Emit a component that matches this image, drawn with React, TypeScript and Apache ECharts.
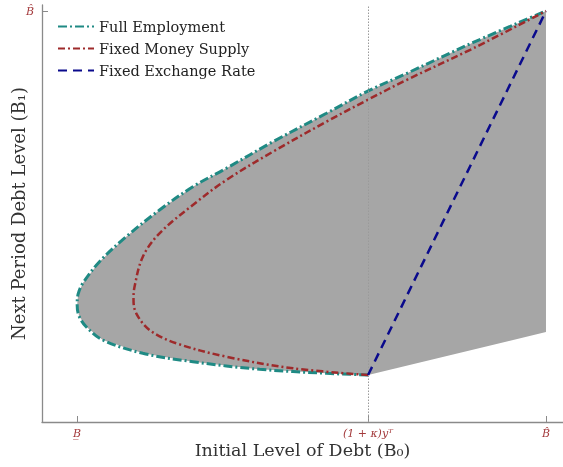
import React, { useEffect, useRef } from "react";
import * as echarts from "echarts";

// Normalised debt units: B_ = 0, (1+κ)y^T = 0.62, B̂ = 1
const xTickValues = [0, 0.62, 1];
const xTickLabels = ["B\u0332", "(1 + κ)y\u1D40", "B\u0302"];
const yTickValues = [1];
const yTickLabels = ["B\u0302"];

// Full Employment curve (from the kink, round the left, up to B̂)
const fullEmpX = [0.6206, 0.5317, 0.3893, 0.2468, 0.1401, 0.0547, 0.0192, 0.004, 0.0, 0.002, 0.012, 0.0476, 0.1046, 0.1757, 0.2468, 0.3182, 0.4177, 0.5317, 0.622, 0.7025, 0.8448, 1.0];
const fullEmpY = [0.1144, 0.1185, 0.1282, 0.1467, 0.1672, 0.1995, 0.2319, 0.258, 0.2847, 0.311, 0.3375, 0.39, 0.4509, 0.5158, 0.5725, 0.6173, 0.682, 0.7511, 0.8061, 0.8479, 0.9234, 1.0];

// Fixed Money Supply curve
const moneyX = [0.6206, 0.4604, 0.3182, 0.2114, 0.1544, 0.126, 0.1202, 0.1224, 0.1401, 0.1757, 0.2468, 0.3182, 0.4177, 0.5317, 0.622, 0.7025, 0.8448, 1.0];
const moneyY = [0.1144, 0.1307, 0.1589, 0.1915, 0.2238, 0.2645, 0.2968, 0.3292, 0.4022, 0.4591, 0.528, 0.5888, 0.6577, 0.7307, 0.7852, 0.8321, 0.9092, 1.0];

// Fixed Exchange Rate line
const fixedX = [0.6206, 1.0];
const fixedY = [0.1144, 1.0];

// Lower edge of the shaded set at B̂
const shadeLowY = 0.219;

const labelColor = "#a3393b";
const axisColor = "#8a8a8a";
const serif = "'DejaVu Serif', 'Liberation Serif', serif";

const pairs = (xs: number[], ys: number[]) => xs.map((x, i) => [x, ys[i]]);

export default function App() {
  const ref = useRef<HTMLDivElement>(null);
  useEffect(() => {
    if (!ref.current) return;
    const chart = echarts.init(ref.current, undefined, { renderer: "svg" });
    const fillPts = [...pairs(fullEmpX, fullEmpY), [1, shadeLowY]];
    const xLabelMap: Record<string, string> = {};
    xTickValues.forEach((v, i) => (xLabelMap[String(v)] = xTickLabels[i]));
    const yLabelMap: Record<string, string> = {};
    yTickValues.forEach((v, i) => (yLabelMap[String(v)] = yTickLabels[i]));

    chart.setOption({
      animation: false,
      grid: { left: 42, right: 0, top: 5, bottom: 45, containLabel: false, outerBoundsMode: "none" },
      legend: {
        left: 52,
        top: 14,
        orient: "vertical",
        itemWidth: 36,
        itemHeight: 14,
        itemGap: 7,
        itemStyle: { opacity: 0 },
        textStyle: { fontFamily: serif, fontSize: 14.5, color: "#222" },
        data: ["Full Employment", "Fixed Money Supply", "Fixed Exchange Rate"],
      },
      xAxis: {
        type: "value",
        min: -0.075,
        max: 1.0363,
        splitLine: { show: false },
        axisLine: { onZero: false, lineStyle: { color: axisColor, width: 1.3 } },
        axisTick: { inside: true, length: 6, customValues: xTickValues, lineStyle: { color: axisColor } },
        axisLabel: {
          customValues: xTickValues,
          margin: 6,
          color: labelColor,
          fontFamily: serif,
          fontStyle: "italic",
          fontSize: 11,
          formatter: (v: number) => xLabelMap[String(v)] ?? "",
        },
        name: "Initial Level of Debt (B\u2080)",
        nameLocation: "middle",
        nameGap: 19,
        nameMoveOverlap: false,
        nameTextStyle: { fontFamily: serif, fontSize: 17.5, color: "#333" },
      },
      yAxis: {
        type: "value",
        min: 0,
        max: 1.0146,
        splitLine: { show: false },
        axisLine: { show: true, onZero: false, lineStyle: { color: axisColor, width: 1.3 } },
        axisTick: { show: true, inside: true, length: 6, customValues: yTickValues, lineStyle: { color: axisColor } },
        axisLabel: {
          customValues: yTickValues,
          margin: 8,
          color: labelColor,
          fontFamily: serif,
          fontStyle: "italic",
          fontSize: 11,
          formatter: (v: number) => yLabelMap[String(v)] ?? "",
        },
        name: "Next Period Debt Level (B\u2081)",
        nameLocation: "middle",
        nameGap: 15,
        nameMoveOverlap: false,
        nameTextStyle: { fontFamily: serif, fontSize: 18, color: "#333" },
      },
      series: [
        {
          type: "custom",
          name: "shade",
          silent: true,
          z: 1,
          data: [[0, 0]],
          renderItem: (params: any, api: any) => {
            const points = fillPts.map((p) => api.coord(p));
            return { type: "polygon", shape: { points }, style: { fill: "#a6a6a6" } };
          },
        },
        {
          type: "line",
          name: "Full Employment",
          data: pairs(fullEmpX, fullEmpY),
          symbol: "none",
          smooth: 0.35,
          z: 3,
          color: "#1f8a84",
          lineStyle: { color: "#1f8a84", width: 3, type: [9, 3, 2, 3] },
        },
        {
          type: "line",
          name: "Fixed Money Supply",
          data: pairs(moneyX, moneyY),
          symbol: "none",
          smooth: 0.35,
          z: 4,
          color: "#9e2a2b",
          lineStyle: { color: "#9e2a2b", width: 2.5, type: [7, 3, 2, 3] },
        },
        {
          type: "line",
          name: "Fixed Exchange Rate",
          data: pairs(fixedX, fixedY),
          symbol: "none",
          z: 5,
          color: "#0a0a8c",
          lineStyle: { color: "#0a0a8c", width: 2.5, type: [9, 6] },
          markLine: {
            silent: true,
            symbol: "none",
            label: { show: false },
            lineStyle: { color: "#9a9a9a", width: 1, type: [1.5, 1.5] },
            data: [{ xAxis: xTickValues[1] }],
          },
        },
      ],
    });
    return () => chart.dispose();
  }, []);
  return <div ref={ref} style={{ position: "fixed", left: 0, top: 0, width: 563, height: 467 }} />;
}
